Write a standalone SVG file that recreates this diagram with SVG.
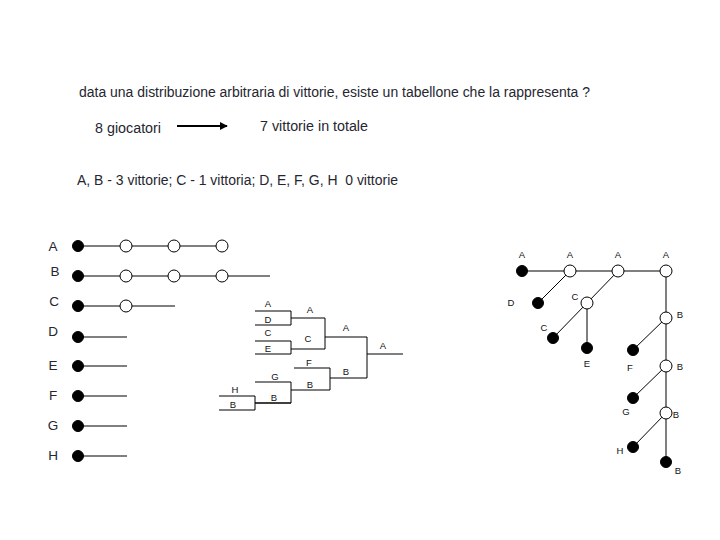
<svg xmlns="http://www.w3.org/2000/svg" width="720" height="540" viewBox="0 0 720 540">
<defs>
<style>
text{font-family:"Liberation Sans",Arial,sans-serif;fill:#262630}
.t{font-size:14px}
.lbl{font-size:13.5px;text-anchor:middle}
.s{font-size:9.5px;text-anchor:middle;fill:#111}
.ln{stroke:#000;stroke-width:1;fill:none}
.bd{fill:#000;stroke:#000}
.od{fill:#fff;stroke:#000;stroke-width:1}
</style>
<marker id="ah" viewBox="0 0 10 10" refX="9" refY="5" markerWidth="4" markerHeight="4" orient="auto"><path d="M0,0L10,5L0,10z" fill="#000"/></marker>
</defs>
<rect width="720" height="540" fill="#fff"/>

<g id="header">
<text class="t" x="79" y="97" textLength="511" lengthAdjust="spacingAndGlyphs">data una distribuzione arbitraria di vittorie, esiste un tabellone che la rappresenta ?</text>
<text class="t" x="95" y="133" textLength="66" lengthAdjust="spacingAndGlyphs">8 giocatori</text>
<line x1="177" y1="126" x2="227" y2="126" stroke="#000" stroke-width="2" marker-end="url(#ah)"/>
<text class="t" x="260" y="131" textLength="108" lengthAdjust="spacingAndGlyphs">7 vittorie in totale</text>
<text class="t" x="77" y="185" textLength="321" lengthAdjust="spacingAndGlyphs" xml:space="preserve">A, B - 3 vittorie; C - 1 vittoria; D, E, F, G, H  0 vittorie</text>
</g>

<g id="left-rows">
<g class="ln">
<line x1="78" y1="246" x2="222" y2="246"/>
<line x1="78" y1="276" x2="270" y2="276"/>
<line x1="78" y1="306" x2="175" y2="306"/>
<line x1="78" y1="337" x2="127" y2="337"/>
<line x1="78" y1="366" x2="127" y2="366"/>
<line x1="78" y1="396" x2="127" y2="396"/>
<line x1="78" y1="426" x2="127" y2="426"/>
<line x1="78" y1="456" x2="127" y2="456"/>
</g>
<g id="rowA"><text class="lbl" x="53" y="251">A</text><circle class="bd" cx="78" cy="246" r="5.5"/><circle class="od" cx="126" cy="246" r="6"/><circle class="od" cx="174" cy="246" r="6"/><circle class="od" cx="222" cy="246" r="6"/></g>
<g id="rowB"><text class="lbl" x="55" y="276">B</text><circle class="bd" cx="78" cy="276" r="5.5"/><circle class="od" cx="126" cy="276" r="6"/><circle class="od" cx="174" cy="276" r="6"/><circle class="od" cx="222" cy="276" r="6"/></g>
<g id="rowC"><text class="lbl" x="54" y="306">C</text><circle class="bd" cx="78" cy="306" r="5.5"/><circle class="od" cx="126" cy="306" r="6"/></g>
<g id="rowD"><text class="lbl" x="53" y="336">D</text><circle class="bd" cx="78" cy="337" r="5.5"/></g>
<g id="rowE"><text class="lbl" x="53" y="370">E</text><circle class="bd" cx="78" cy="366" r="5.5"/></g>
<g id="rowF"><text class="lbl" x="53" y="400">F</text><circle class="bd" cx="78" cy="396" r="5.5"/></g>
<g id="rowG"><text class="lbl" x="53" y="430">G</text><circle class="bd" cx="78" cy="426" r="5.5"/></g>
<g id="rowH"><text class="lbl" x="53" y="460">H</text><circle class="bd" cx="78" cy="456" r="5.5"/></g>
</g>

<g id="bracket">
<path class="ln" d="M255,311H291V325H255 M291,318H325 M255,341H291V354H255 M291,349H325 M325,318V349 M325,337H367 M294,368H330V390H291 M330,378H367 M367,337V378 M367,354H403 M255,382H291V403H255 M219,396H255V410H219 M255,403H291"/>
<text class="s" x="268" y="307">A</text>
<text class="s" x="268" y="323">D</text>
<text class="s" x="268" y="336">C</text>
<text class="s" x="268" y="352">E</text>
<text class="s" x="310" y="313">A</text>
<text class="s" x="308" y="342">C</text>
<text class="s" x="346" y="331">A</text>
<text class="s" x="383" y="349">A</text>
<text class="s" x="309" y="366">F</text>
<text class="s" x="310" y="388">B</text>
<text class="s" x="346" y="375">B</text>
<text class="s" x="275" y="380">G</text>
<text class="s" x="274" y="401">B</text>
<text class="s" x="235" y="393">H</text>
<text class="s" x="233" y="408">B</text>
</g>

<g id="tree-edges" class="ln">
<line x1="522" y1="271" x2="666" y2="271"/>
<line x1="570" y1="271" x2="538" y2="303"/>
<line x1="618" y1="271" x2="587" y2="303"/>
<line x1="587" y1="303" x2="553" y2="338"/>
<line x1="587" y1="303" x2="587" y2="348"/>
<line x1="666" y1="271" x2="666" y2="462"/>
<line x1="666" y1="318" x2="633" y2="350"/>
<line x1="666" y1="366" x2="633" y2="398"/>
<line x1="666" y1="413" x2="633" y2="447"/>
</g>
<g id="tree-nodes">
<g id="tA0"><circle class="bd" cx="522" cy="271" r="5.5"/><text class="s" x="522" y="258">A</text></g>
<g id="tA1"><circle class="od" cx="570" cy="271" r="6"/><text class="s" x="570" y="258">A</text></g>
<g id="tA2"><circle class="od" cx="618" cy="271" r="6"/><text class="s" x="618" y="258">A</text></g>
<g id="tA3"><circle class="od" cx="666" cy="271" r="6"/><text class="s" x="666" y="258">A</text></g>
<g id="tD"><circle class="bd" cx="538" cy="303" r="5.5"/><text class="s" x="511" y="306">D</text></g>
<g id="tC"><circle class="od" cx="587" cy="303" r="6"/><text class="s" x="575" y="300">C</text></g>
<g id="tC2"><circle class="bd" cx="553" cy="338" r="5.5"/><text class="s" x="544" y="331">C</text></g>
<g id="tE"><circle class="bd" cx="587" cy="348" r="5.5"/><text class="s" x="587" y="367">E</text></g>
<g id="tB1"><circle class="od" cx="666" cy="318" r="6"/><text class="s" x="680" y="318">B</text></g>
<g id="tF"><circle class="bd" cx="633" cy="350" r="5.5"/><text class="s" x="630" y="371">F</text></g>
<g id="tB2"><circle class="od" cx="666" cy="366" r="6"/><text class="s" x="680" y="370">B</text></g>
<g id="tG"><circle class="bd" cx="633" cy="398" r="5.5"/><text class="s" x="626" y="415">G</text></g>
<g id="tB3"><circle class="od" cx="666" cy="413" r="6"/><text class="s" x="676" y="418">B</text></g>
<g id="tH"><circle class="bd" cx="633" cy="447" r="5.5"/><text class="s" x="620" y="454">H</text></g>
<g id="tB4"><circle class="bd" cx="666" cy="462" r="5.5"/><text class="s" x="678" y="474">B</text></g>
</g>
</svg>
